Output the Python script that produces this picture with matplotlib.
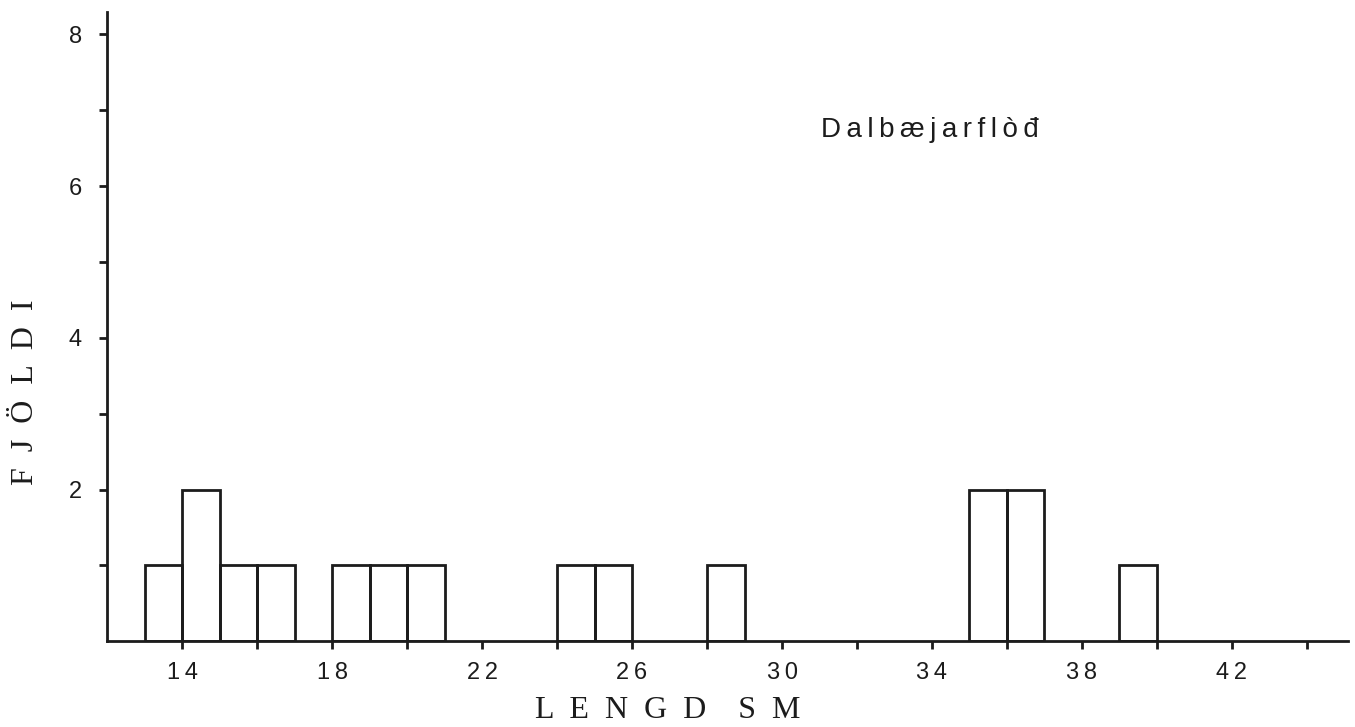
import matplotlib
matplotlib.use("Agg")
import matplotlib.pyplot as plt

# Data: histogram of lengths (cm), bins of width 1 starting at left edge
bin_left = [13, 14, 15, 16, 18, 19, 20, 24, 25, 28, 35, 36, 39]
counts = [1, 2, 1, 1, 1, 1, 1, 1, 1, 1, 2, 2, 1]
x_ticks = list(range(14, 45, 2))
x_labels = ["14", "18", "22", "26", "30", "34", "38", "42"]
y_ticks = list(range(1, 9))
y_labels = ["2", "4", "6", "8"]
title = "Dalbæjarflòđ"
xlabel_words = ["LENGD", "SM"]
ylabel = "FJÖLDI"

ink = "#1c1c1c"
fig = plt.figure(figsize=(13.55, 7.27), dpi=100)
fig.patch.set_facecolor("white")
ax = fig.add_axes([0.079, 0.118, 0.916, 0.866])
ax.set_xlim(12, 45.1)
ax.set_ylim(0, 8.3)

ax.bar(bin_left, counts, width=1, align="edge", fill=False,
       edgecolor=ink, linewidth=2.0, zorder=2)

for s in ["top", "right"]:
    ax.spines[s].set_visible(False)
for s in ["left", "bottom"]:
    ax.spines[s].set_color(ink)
    ax.spines[s].set_linewidth(2.0)

sp = "\u2009"
ax.set_xticks(x_ticks)
ax.set_xticklabels([sp.join(str(v)) if str(v) in x_labels else "" for v in x_ticks])
ax.set_yticks(y_ticks)
ax.set_yticklabels([str(v) if str(v) in y_labels else "" for v in y_ticks])
ax.tick_params(axis="both", direction="out", length=6, width=2.0, color=ink,
               labelcolor=ink, labelsize=17)
ax.tick_params(axis="x", pad=9)
ax.tick_params(axis="y", pad=12)
for lab in ax.get_xticklabels() + ax.get_yticklabels():
    lab.set_family("Liberation Sans")

ax.text(0.575, 0.812, sp.join(title), transform=ax.transAxes,
        fontsize=20, family="Liberation Sans", color=ink, ha="left", va="center")

xlabel = "    ".join("  ".join(w) for w in xlabel_words)
fig.text(0.493, 0.023, xlabel,
         fontsize=23, family="Liberation Serif", color=ink,
         ha="center", va="center")
fig.text(0.019, 0.461, "  ".join(ylabel), rotation=90,
         fontsize=23, family="Liberation Serif", color=ink,
         ha="center", va="center")

fig.savefig("out.png", dpi=100, facecolor="white")
